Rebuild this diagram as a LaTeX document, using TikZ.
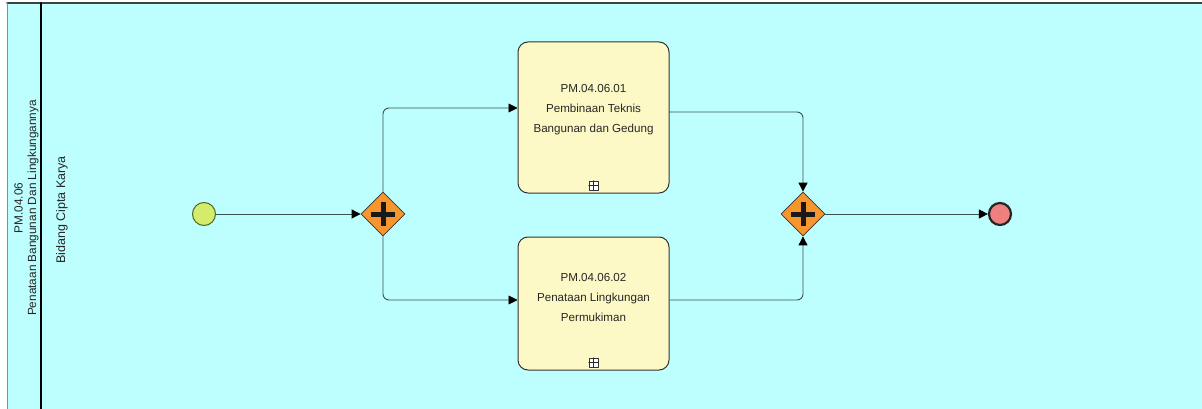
\documentclass[tikz,border=0pt]{standalone}
\usepackage{fontspec}
\setmainfont{Liberation Sans}
\usepackage{tikz}
\usetikzlibrary{arrows.meta}
\usetikzlibrary{positioning}
\usetikzlibrary{shapes.geometric}
\usetikzlibrary{calc}

\definecolor{PoolCyan}{HTML}{BDFEFE}
\definecolor{TaskYellow}{HTML}{FDF9C6}
\definecolor{GateOrange}{HTML}{F7952E}
\definecolor{StartGreen}{HTML}{D4EB6C}
\definecolor{StartRim}{HTML}{4F6B22}
\definecolor{EndRed}{HTML}{F07F80}
\definecolor{FlowGray}{HTML}{3D5252}

\begin{document}
\begin{tikzpicture}[x=1pt,y=-1pt,line cap=round,line join=round,
  flow/.style={-{Triangle[length=9pt,width=9pt,color=black]},line width=0.9pt,color=FlowGray,rounded corners=6pt},
  task/.style={draw=black!80,line width=1pt,fill=TaskYellow,rounded corners=10pt,minimum width=151pt,inner sep=0pt},
  tasktext/.style={align=center,text=black!85,font=\fontsize{11.6}{20}\selectfont},
  gate/.style={diamond,draw=black!80,fill=GateOrange,line width=0.8pt,minimum width=44pt,minimum height=44pt,inner sep=0pt},
  event/.style={circle,minimum size=23pt,inner sep=0pt},
  lanetext/.style={rotate=90,align=center,text=black!85,font=\fontsize{11.8}{13.5}\selectfont}]
\useasboundingbox (0,0) rectangle (1202,409);
\clip (0,0) rectangle (1202,409);
% pool and lane
\fill[PoolCyan] (7,3) rectangle (1215,420);
\draw[line width=1.6pt,color=black!75] (7,3) -- (1215,3);
\draw[line width=0.8pt,color=black!45] (7,3) -- (7,420);
\draw[line width=1.8pt,color=black] (41,3) -- (41,420);
\node[lanetext] (pool) at (26.5,208) {PM.04.06\\Penataan Bangunan Dan Lingkungannya};
\node[lanetext,font=\fontsize{12.5}{14}\selectfont] (lane) at (62,210) {Bidang Cipta Karya};
% events and gateways
\node[event,draw=StartRim,fill=StartGreen,line width=1pt] (start) at (204,214) {};
\node[gate] (split) at (383,214) {};
\node[gate] (join) at (803,214) {};
\node[event,draw=black!85,fill=EndRed,line width=2.2pt,minimum size=22pt] (end) at (1000,214) {};
\foreach \g in {split,join}
  \draw[line width=5pt,line cap=butt,color=black!90] ($(\g)+(-12,0)$) -- ($(\g)+(12,0)$) ($(\g)+(0,-12)$) -- ($(\g)+(0,12)$);
% tasks
\node[task,minimum height=151pt] (bangunan) at (593.5,117.5) {};
\node[task,minimum height=133pt] (lingkungan) at (593.5,303.5) {};
\node[tasktext] (bangunantxt) at ([yshift=8pt]bangunan.center) {PM.04.06.01\\Pembinaan Teknis\\Bangunan dan Gedung};
\node[tasktext] (lingkungantxt) at ([yshift=6pt]lingkungan.center) {PM.04.06.02\\Penataan Lingkungan\\Permukiman};
\foreach \t in {bangunan,lingkungan} {
  \node[draw=black!80,fill=white,line width=0.6pt,minimum size=9pt,inner sep=0pt] (\t sub) at ([yshift=8pt]\t.south) {};
  \draw[line width=0.8pt,color=black!85] (\t sub.west) -- (\t sub.east) (\t sub.north) -- (\t sub.south);
}
% sequence flows
\draw[flow] (start) -- (split);
\draw[flow] (split.north) |- ([yshift=9.5pt]bangunan.west);
\draw[flow] (split.south) |- ([yshift=3.5pt]lingkungan.west);
\draw[flow] ([yshift=5.5pt]bangunan.east) -| (join.north);
\draw[flow] ([yshift=3.5pt]lingkungan.east) -| (join.south);
\draw[flow] (join) -- (end);
\end{tikzpicture}
\end{document}
